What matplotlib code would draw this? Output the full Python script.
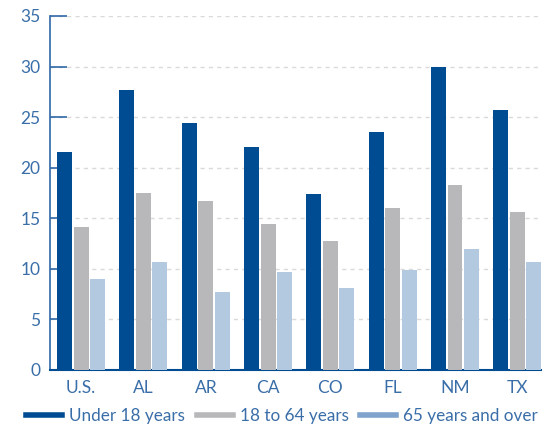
import numpy as np
import matplotlib.pyplot as plt
from matplotlib.lines import Line2D

plt.rcParams['font.family'] = ['Lato', 'DejaVu Sans']

estados = ['U.S.', 'AL', 'AR', 'CA', 'CO', 'FL', 'NM', 'TX']
menores_18 = [21.6, 27.7, 24.4, 22.0, 17.4, 23.5, 30.0, 25.7]
de_18_a_64 = [14.1, 17.5, 16.7, 14.4, 12.8, 16.0, 18.3, 15.6]
acima_65 = [9.0, 10.7, 7.7, 9.7, 8.1, 9.9, 12.0, 10.7]
series = ['Under 18 years', '18 to 64 years', '65 years and over']

cores = ['#004C93', '#B8B8BA', '#B3C9DF']
cor_texto = '#3A6EA8'

fig = plt.figure(figsize=(5.53, 4.29), dpi=100)
ax = fig.add_axes([50 / 553, 59 / 429, 491 / 553, 354 / 429])

x = np.arange(len(estados))
largura = 0.24
passo = 0.265
for i, (vals, cor) in enumerate(zip([menores_18, de_18_a_64, acima_65], cores)):
    ax.bar(x + (i - 1) * passo, vals, width=largura, color=cor, zorder=3)

ax.set_ylim(0, 35)
ax.set_xlim(-0.5, 7.38)
ax.set_yticks(range(0, 36, 5))
ax.set_xticks(x)
ax.set_xticklabels(estados)

ax.yaxis.grid(True, color='#DADADA', linestyle=(0, (3, 3)), linewidth=1, zorder=0)
for s in ['top', 'right']:
    ax.spines[s].set_visible(False)
ax.spines['left'].set_color('#2F67A6')
ax.spines['bottom'].set_color('#004C93')
ax.spines['left'].set_linewidth(1.2)
ax.spines['bottom'].set_linewidth(1.5)
ax.tick_params(axis='y', direction='in', length=12, width=1.2, color='#2F67A6',
               labelsize=12.5, labelcolor=cor_texto, pad=7)
ax.tick_params(axis='x', length=0, labelsize=12.5, labelcolor=cor_texto, pad=7)

alcas = [Line2D([0], [0], color=c, linewidth=4) for c in ['#004C93', '#B8B8BA', '#7FA3CC']]
leg = fig.legend(alcas, series, loc='lower center', bbox_to_anchor=(0.51, -0.025), ncol=3,
                 frameon=False, fontsize=12.3, handlelength=2.1, handletextpad=0.4,
                 columnspacing=0.7)
for t in leg.get_texts():
    t.set_color(cor_texto)

fig.savefig('out.png', dpi=100)
